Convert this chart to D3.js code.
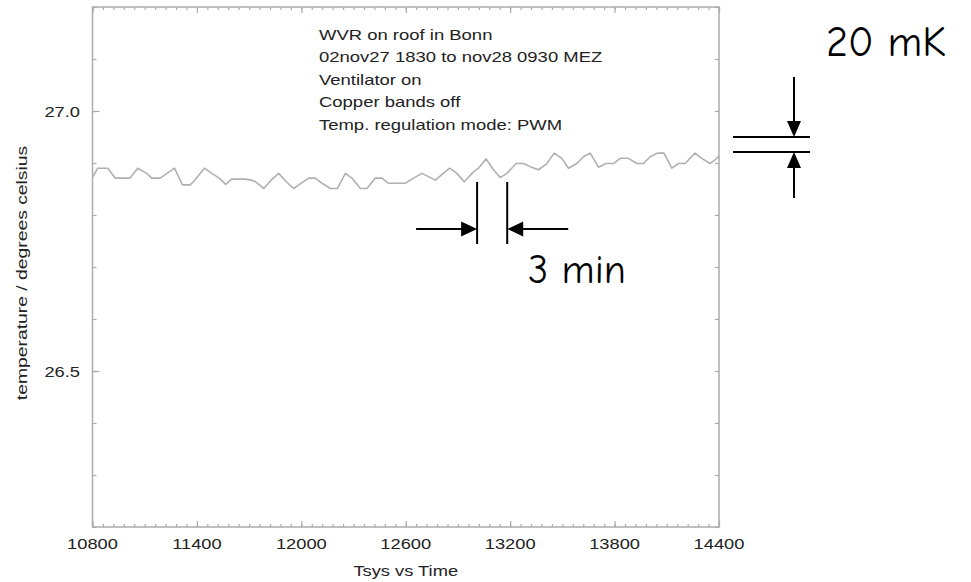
<!DOCTYPE html>
<html><head><meta charset="utf-8">
<script src="https://cdn.jsdelivr.net/npm/d3@7"></script>
<style>html,body{margin:0;padding:0;background:#fff;} svg{display:block;}</style>
</head><body>
<svg id="chart" width="971" height="582"></svg>
<script>
// ---- data ----
const times = [10803,10830,10888,10930,11016,11060,11112,11140,11189,11271,11317,11361,11380,11443,11485,11528,11565,11600,11677,11715,11736,11784,11826,11870,11914,11956,11998,12042,12080,12119,12167,12208,12253,12291,12339,12377,12425,12463,12501,12550,12597,12645,12693,12770,12852,12894,12936,12989,13018,13062,13104,13143,13181,13235,13277,13315,13363,13411,13453,13497,13535,13583,13621,13660,13707,13751,13793,13832,13879,13928,13966,14004,14046,14084,14129,14167,14205,14262,14301,14349,14387,14400];
const temps = [26.874,26.890,26.890,26.871,26.871,26.890,26.880,26.871,26.871,26.890,26.858,26.858,26.864,26.890,26.880,26.871,26.859,26.869,26.869,26.867,26.864,26.851,26.867,26.880,26.864,26.851,26.861,26.871,26.871,26.861,26.851,26.851,26.880,26.871,26.851,26.851,26.871,26.871,26.861,26.861,26.861,26.871,26.880,26.867,26.890,26.880,26.864,26.883,26.890,26.908,26.887,26.872,26.880,26.899,26.899,26.893,26.887,26.899,26.919,26.909,26.890,26.899,26.912,26.919,26.892,26.899,26.899,26.909,26.909,26.899,26.899,26.912,26.919,26.919,26.890,26.899,26.899,26.919,26.909,26.899,26.909,26.914];
const xTickLabels = [10800, 11400, 12000, 12600, 13200, 13800, 14400];
const yTickLabels = [26.5, 27.0];
const xDomain = [10800, 14400];
const yDomain = [26.2, 27.2];
const xMinorStep = 60;
const yMinorStep = 0.1;
const infoLines = ["WVR on roof in Bonn", "02nov27 1830 to nov28 0930 MEZ", "Ventilator on", "Copper bands off", "Temp. regulation mode: PWM"];
const xTitle = "Tsys vs Time";
const yTitle = "temperature / degrees celsius";
const intervalMarks = [13010, 13183];   // "3 min" markers (time units)
const intervalLabel = "3 min";
const deltaMarks = [26.95, 26.921];     // "20 mK" markers (temperature)
const deltaLabel = "20 mK";

// ---- layout ----
const svg = d3.select("#chart");
const L = 92.5, R = 719, T = 7, B = 527;
const x = d3.scaleLinear().domain(xDomain).range([L, R]);
const y = d3.scaleLinear().domain(yDomain).range([B, T]);
const gray = "#ababab";
const font = "'Liberation Sans', Arial, Helvetica, sans-serif";
const comic = "'Comic Sans MS', 'Comic Neue', 'DejaVu Sans', sans-serif";

// frame
svg.append("rect").attr("x", L).attr("y", T).attr("width", R - L).attr("height", B - T)
  .attr("fill", "none").attr("stroke", gray).attr("stroke-width", 1.5);

// ticks via d3 axes
const xMinor = d3.range(xDomain[0], xDomain[1] + 1, xMinorStep);
const yMinor = d3.range(0, 11).map(i => +(yDomain[0] + i * yMinorStep).toFixed(2));
function styleAxis(g) {
  g.select(".domain").remove();
  g.selectAll("line").attr("stroke", gray).attr("stroke-width", 1.2);
  g.selectAll("text").remove();
}
svg.append("g").attr("transform", `translate(0,${B})`)
  .call(d3.axisBottom(x).tickValues(xMinor).tickSize(-3).tickFormat("")).call(styleAxis);
svg.append("g").attr("transform", `translate(0,${B})`)
  .call(d3.axisBottom(x).tickValues(xTickLabels).tickSize(-6).tickFormat("")).call(styleAxis);
svg.append("g").attr("transform", `translate(0,${T})`)
  .call(d3.axisTop(x).tickValues(xMinor).tickSize(-3).tickFormat("")).call(styleAxis);
svg.append("g").attr("transform", `translate(0,${T})`)
  .call(d3.axisTop(x).tickValues(xTickLabels).tickSize(-6).tickFormat("")).call(styleAxis);
svg.append("g").attr("transform", `translate(${L},0)`)
  .call(d3.axisLeft(y).tickValues(yMinor).tickSize(-4).tickFormat("")).call(styleAxis);
svg.append("g").attr("transform", `translate(${L},0)`)
  .call(d3.axisLeft(y).tickValues(yTickLabels).tickSize(-7).tickFormat("")).call(styleAxis);
svg.append("g").attr("transform", `translate(${R},0)`)
  .call(d3.axisRight(y).tickValues(yMinor).tickSize(-4).tickFormat("")).call(styleAxis);

// tick labels (wide Helvetica look)
const sx = 1.22;
svg.append("g").selectAll("text").data(xTickLabels).join("text")
  .attr("transform", d => `translate(${x(d)},549) scale(${sx},1)`)
  .attr("text-anchor", "middle").attr("font-family", font).attr("font-size", 15)
  .attr("fill", "#222").text(d => d);
svg.append("g").selectAll("text").data(yTickLabels).join("text")
  .attr("transform", d => `translate(80,${y(d) + 6}) scale(${sx},1)`)
  .attr("text-anchor", "end").attr("font-family", font).attr("font-size", 15)
  .attr("fill", "#222").text(d => d.toFixed(1));

// axis titles
svg.append("text").attr("transform", `translate(${(L + R) / 2},576) scale(${sx},1)`)
  .attr("text-anchor", "middle").attr("font-family", font).attr("font-size", 15)
  .attr("fill", "#222").text(xTitle);
svg.append("text").attr("transform", `translate(27,273) rotate(-90) scale(1.38,1)`)
  .attr("text-anchor", "middle").attr("font-family", font).attr("font-size", 14)
  .attr("fill", "#222").text(yTitle);

// info text
svg.append("g").selectAll("text").data(infoLines).join("text")
  .attr("transform", (d, i) => `translate(319,${39.5 + i * 22.5}) scale(1.32,1)`)
  .attr("font-family", font).attr("font-size", 14).attr("fill", "#222").text(d => d);

// data line
const line = d3.line().x((d, i) => x(times[i])).y(d => y(d));
svg.append("path").datum(temps).attr("d", line)
  .attr("fill", "none").attr("stroke", "#b0b0b0").attr("stroke-width", 1.6)
  .attr("stroke-linejoin", "round");

// ---- annotations ----
const ann = svg.append("g").attr("stroke", "#000").attr("stroke-width", 2).attr("fill", "#000");
const xa = x(intervalMarks[0]), xb = x(intervalMarks[1]);
const ay = 229;
ann.append("line").attr("x1", xa).attr("x2", xa).attr("y1", 182).attr("y2", 244);
ann.append("line").attr("x1", xb).attr("x2", xb).attr("y1", 182).attr("y2", 244);
ann.append("line").attr("x1", xa - 61).attr("x2", xa - 10).attr("y1", ay).attr("y2", ay);
ann.append("path").attr("stroke", "none").attr("d", `M${xa},${ay} L${xa - 16},${ay - 7.5} L${xa - 16},${ay + 7.5} Z`);
ann.append("line").attr("x1", xb + 61).attr("x2", xb + 10).attr("y1", ay).attr("y2", ay);
ann.append("path").attr("stroke", "none").attr("d", `M${xb},${ay} L${xb + 16},${ay - 7.5} L${xb + 16},${ay + 7.5} Z`);
svg.append("text").attr("x", 528).attr("y", 283).attr("font-family", comic).attr("font-size", 40)
  .attr("fill", "#000").text(intervalLabel);

const ya = y(deltaMarks[0]), yb = y(deltaMarks[1]);
const ax = 794;
ann.append("line").attr("x1", 733).attr("x2", 810).attr("y1", ya).attr("y2", ya);
ann.append("line").attr("x1", 733).attr("x2", 810).attr("y1", yb).attr("y2", yb);
ann.append("line").attr("x1", ax).attr("x2", ax).attr("y1", 77).attr("y2", ya - 10);
ann.append("path").attr("stroke", "none").attr("d", `M${ax},${ya} L${ax - 7},${ya - 16} L${ax + 7},${ya - 16} Z`);
ann.append("line").attr("x1", ax).attr("x2", ax).attr("y1", 198).attr("y2", yb + 10);
ann.append("path").attr("stroke", "none").attr("d", `M${ax},${yb} L${ax - 7},${yb + 16} L${ax + 7},${yb + 16} Z`);
svg.append("text").attr("x", 826).attr("y", 56).attr("font-family", comic).attr("font-size", 42)
  .attr("fill", "#000").text(deltaLabel);
</script>
</body></html>
